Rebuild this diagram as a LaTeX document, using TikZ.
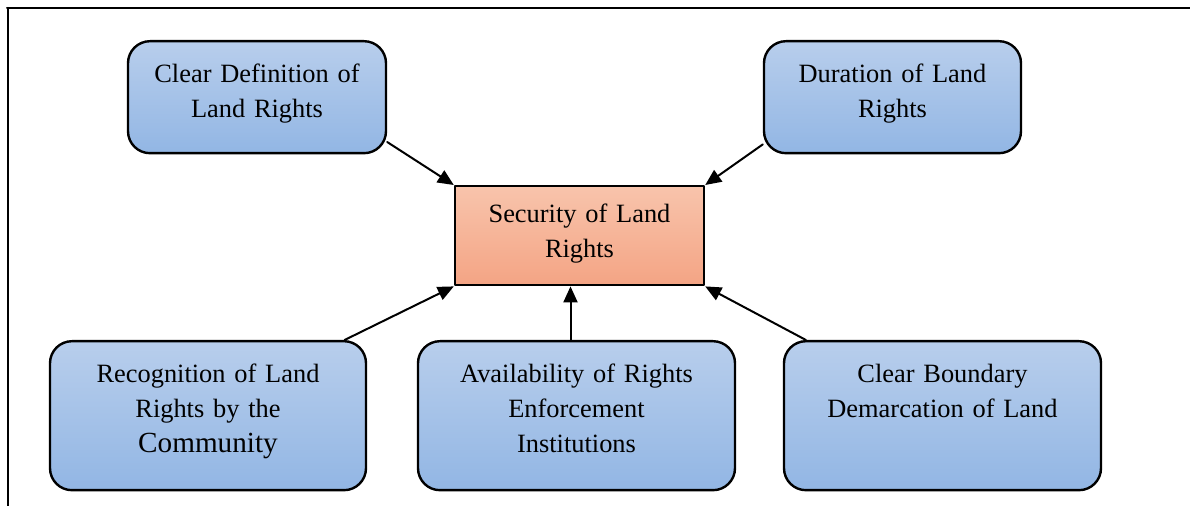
\documentclass[tikz,border=0pt]{standalone}
\usepackage{fontspec}
\setmainfont{Liberation Serif}
\usetikzlibrary{calc}
\usetikzlibrary{arrows.meta}
\definecolor{bluetop}{RGB}{184,206,236}
\definecolor{bluebot}{RGB}{146,182,228}
\definecolor{salmontop}{RGB}{248,196,172}
\definecolor{salmonbot}{RGB}{244,164,132}
\begin{document}
\begin{tikzpicture}[x=0.5pt, y=-0.5pt, line cap = round, line join = round, >={Triangle[length=8pt,width=7pt]}]
\tikzstyle{factor}=[draw=black, line width=1.2pt, rounded corners=11pt, top color=bluetop, bottom color=bluebot, anchor=north, align=center, inner xsep=0pt, inner ysep=0pt, text height=20.5pt, font=\fontsize{13.2}{17.5}\selectfont]
\tikzstyle{security}=[draw=black, line width=1.2pt, top color=salmontop, bottom color=salmonbot, anchor=north, align=center, inner xsep=0pt, inner ysep=0pt, text width=124.5pt, text height=18pt, text depth=31.5pt, font=\fontsize{13.2}{17.5}\selectfont]
\useasboundingbox (0,0) rectangle (1190,506);
\draw[line width=1pt] (7,8) -- (1190,8);
\draw[line width=1pt] (8,8) -- (8,506);

\node[factor, text width=129pt, text depth=35.5pt] (definition) at (257,40) {Clear Definition of\\Land Rights};
\node[factor, text width=128.5pt, text depth=35.5pt] (duration) at (892.5,40) {Duration of Land\\Rights};
\node[security] (security) at (579.5,185) {Security of Land\\Rights};
\node[factor, text width=158pt, text depth=54pt] (recognition) at (208,340) {Recognition of Land\\Rights by the\\{\fontsize{14.6}{17.5}\selectfont Community}};
\node[factor, text width=158.5pt, text depth=54pt] (enforcement) at (576.5,340) {Availability of Rights\\Enforcement\\Institutions};
\node[factor, text width=158.5pt, text depth=54pt] (boundary) at (942.5,340) {Clear Boundary\\Demarcation of Land};

\draw[line width=1pt,->] (definition.-19) -- (security.north west);
\draw[line width=1pt,->] (duration.200) -- (security.north east);
\draw[line width=1pt,->] (recognition.29) -- (security.south west);
\draw[line width=1pt,->] ($(enforcement.north)+(-6,0)$) -- ($(enforcement.north |- security.south)+(-6,0)$);
\draw[line width=1pt,->] (boundary.151) -- (security.south east);
\end{tikzpicture}
\end{document}
